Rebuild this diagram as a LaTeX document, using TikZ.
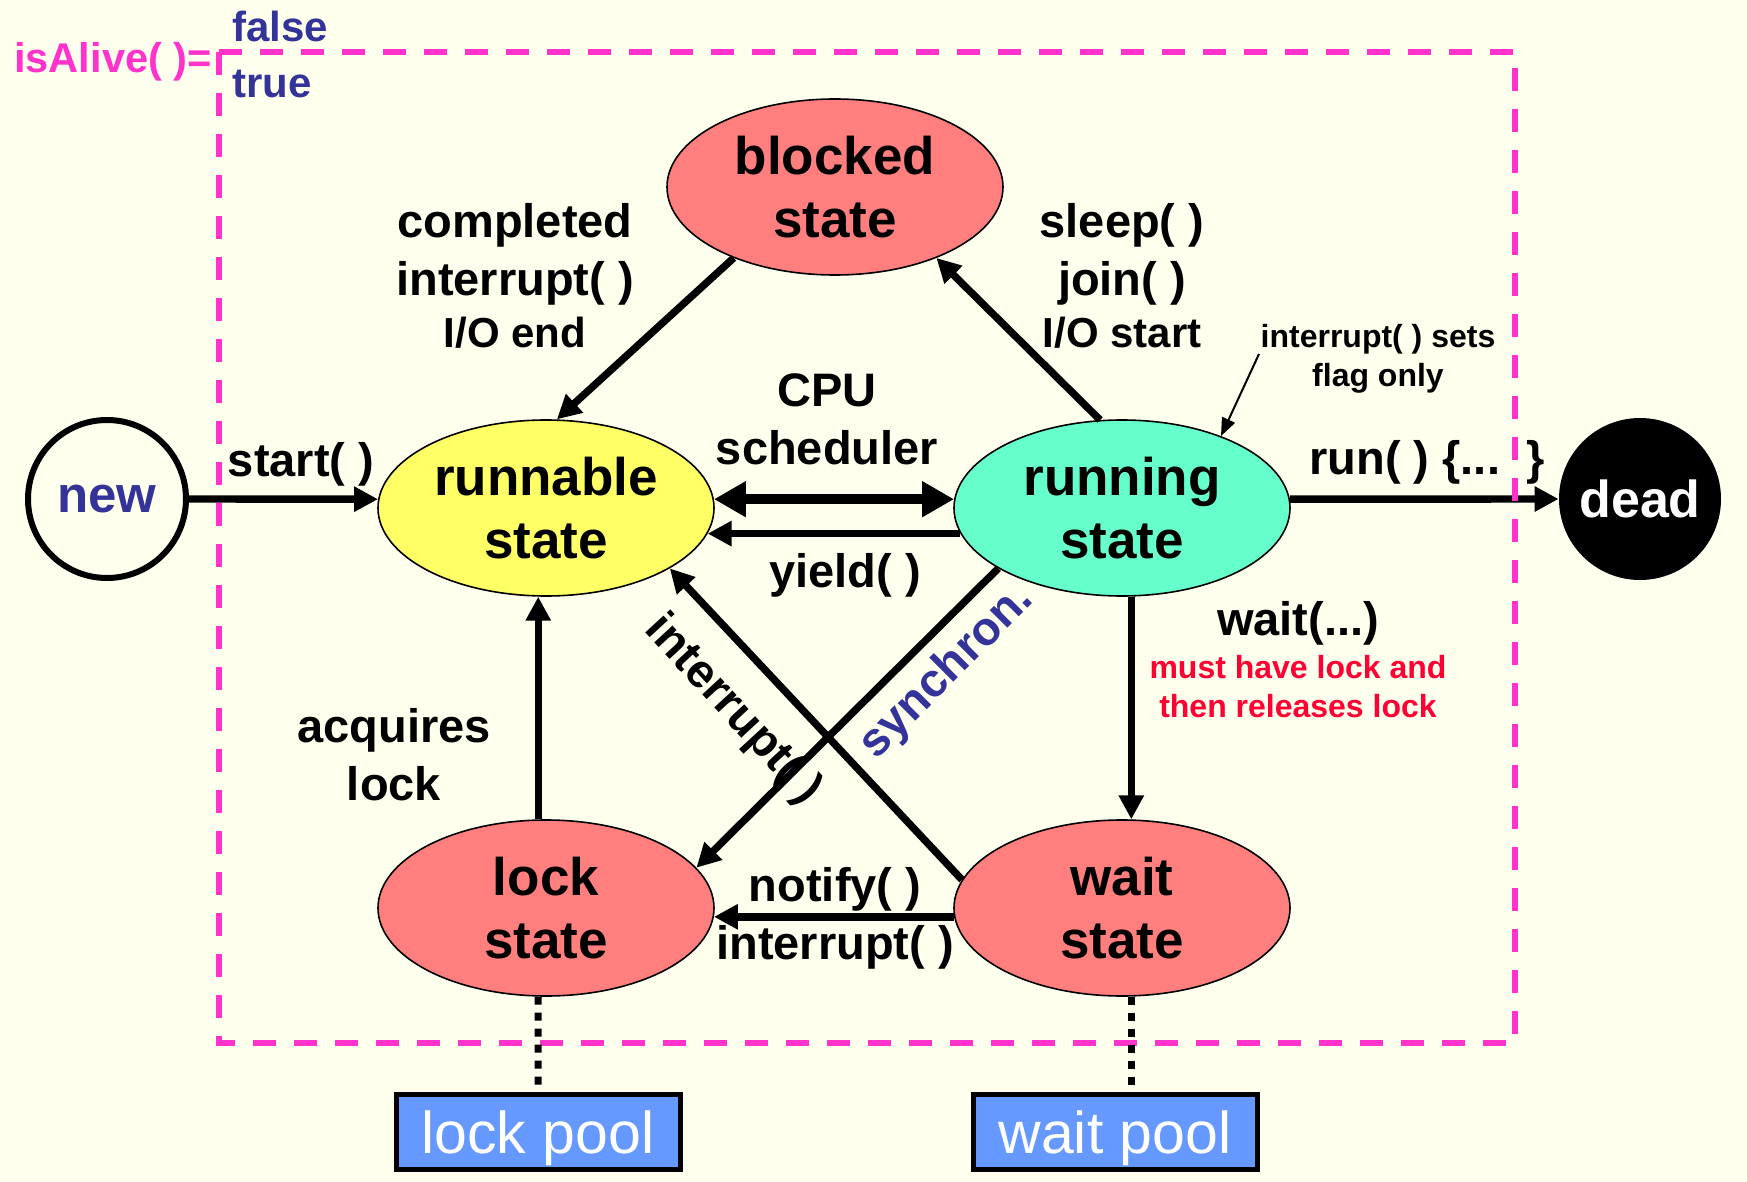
\documentclass[tikz,border=0pt]{standalone}
\usepackage{fontspec}
\setmainfont{Liberation Sans}
\usetikzlibrary{shapes.geometric,arrows.meta,calc}
\definecolor{bgc}{HTML}{FFFFED}
\definecolor{salmon}{HTML}{FF7F7F}
\definecolor{runnc}{HTML}{FFFF66}
\definecolor{runc}{HTML}{66FFCC}
\definecolor{poolc}{HTML}{6699FF}
\definecolor{magc}{HTML}{FF33CC}
\definecolor{navyc}{HTML}{333399}
\definecolor{redc}{HTML}{FF0033}
\begin{document}
\begin{tikzpicture}[x=0.5pt,y=-0.5pt,
  st/.style={ellipse,draw=black,line width=0.8pt,minimum width=168pt,minimum height=88pt,inner sep=0pt,align=center,font=\fontsize{26.5}{31.5}\selectfont\bfseries},
  lbl/.style={align=center,inner sep=0pt,font=\fontsize{23.5}{29}\selectfont\bfseries},
  smalllbl/.style={align=center,inner sep=0pt,font=\fontsize{16}{19.5}\selectfont\bfseries},
  arr/.style={line width=3.7pt,-{Triangle[length=12pt,width=12pt]}},
  dblarr/.style={line width=5pt,{Triangle[length=16pt,width=17pt]}-{Triangle[length=16pt,width=17pt]}},
  thinarr/.style={line width=1pt,-{Triangle[length=9pt,width=7pt]}},
  dotl/.style={line width=3.5pt,dash pattern=on 4pt off 4pt},
  pool/.style={rectangle,draw=black,line width=2.5pt,fill=poolc,minimum width=142pt,minimum height=37.5pt,inner sep=0pt,text depth=0pt,text=white,font=\fontsize{29.5}{33}\selectfont}]
\fill[bgc] (0,0) rectangle (1747,1182);
\useasboundingbox (0,0) rectangle (1747,1182);

% states
\node[st,fill=salmon] (blocked) at (835,187) {blocked\\state};
\node[st,fill=runnc] (runnable) at (546,508) {runnable\\state};
\node[st,fill=runc] (running) at (1122,508) {running\\state};
\node[st,fill=salmon] (lock) at (546,908) {lock\\state};
\node[st,fill=salmon] (wait) at (1122,908) {wait\\state};
\node[circle,draw=black,line width=3pt,minimum size=79pt,inner sep=0pt,text=navyc,font=\fontsize{25.5}{30}\selectfont\bfseries] (new) at (107,499) {new};
\node[circle,fill=black,minimum size=81pt,inner sep=0pt,text=white,font=\fontsize{26}{30}\selectfont\bfseries] (dead) at (1640,499) {dead};
\node[pool] (lockpool) at (538,1132) {lock pool};
\node[pool] (waitpool) at (1115,1132) {wait pool};

% labels
\node[inner sep=0pt,text=magc,font=\fontsize{20.8}{25}\selectfont\bfseries] (isalive) at (113,62) {isAlive( )=};
\node[inner sep=0pt,anchor=west,text=navyc,font=\fontsize{21}{25}\selectfont\bfseries] (falselbl) at (232,26) {false};
\node[inner sep=0pt,anchor=west,text=navyc,font=\fontsize{21}{25}\selectfont\bfseries] (truelbl) at (232,84) {true};
\node[lbl] (startlbl) at (301,464) {start( )};
\node[lbl] (completedlbl) at (515,276) {completed\\interrupt( )\\[-3pt]{\fontsize{21}{25}\selectfont I/O end}};
\node[lbl] (sleeplbl) at (1122,276) {sleep( )\\join( )\\[-3pt]{\fontsize{21}{25}\selectfont I/O start}};
\node[lbl] (cpulbl) at (827,419) {CPU\\scheduler};
\node[lbl] (yieldlbl) at (845,575) {yield( )};
\node[lbl] (acqlbl) at (394,755) {acquires\\lock};
\node[lbl] (notifylbl) at (835,918) {notify( )\\[0pt]interrupt( )};
\node[lbl] (waitlbl) at (1298,623) {wait(...)};
\node[smalllbl,text=redc] (mustlbl) at (1298,687) {must have lock and\\then releases lock};
\node[smalllbl] (flaglbl) at (1378,359) {interrupt( ) sets\\flag only};
\node[lbl] (runlbl) at (1427,462) {run( ) \{...\ \ \}};
\node[lbl,rotate=-47.3] (intlbl) at (733,710) {interrupt( )};
\node[lbl,rotate=45,text=navyc] (synclbl) at (947,672) {synchron.};
\coordinate (flagtail) at (1259,354);

% connectors
\draw[arr] (new.east) -- (runnable.177);
\draw[arr] (running.3) -- (dead.west);
\draw[arr] (blocked.215) -- (runnable.83);
\draw[arr] (running.104) -- (blocked.325);
\draw[dblarr] (runnable.3) -- (running.177);
\draw[arr] (running.189) -- (runnable.351);
\draw[arr] (running.206) -- (lock.15);
\draw[arr] (wait.170) -- (runnable.334);
\draw[arr] (running.276) -- (wait.84);
\draw[arr] (lock.95) -- (runnable.265);
\draw[arr] (wait.183) -- (lock.357);
\draw[thinarr] (flagtail) -- (running.36);

% isAlive boundary
\draw[magc,line width=3pt,dash pattern=on 11.5pt off 9pt] (219,52) rectangle (1515,1043);

% pools
\draw[dotl] (lock.265) -- (lockpool.north);
\draw[dotl] (wait.276) -- (wait.276 |- waitpool.north);
\end{tikzpicture}
\end{document}
